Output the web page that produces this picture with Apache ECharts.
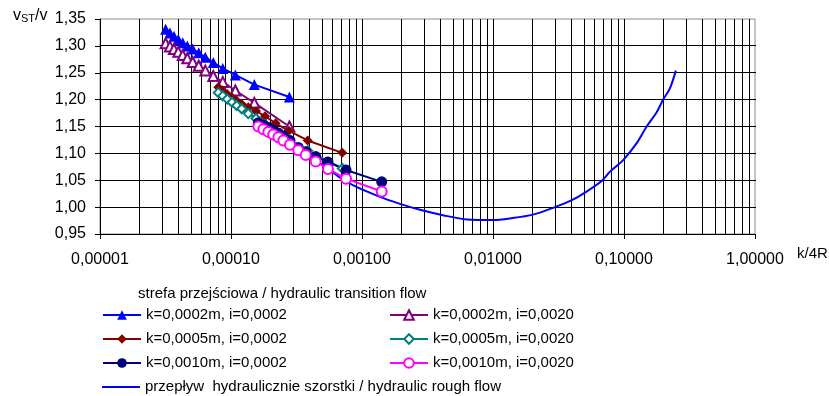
<!DOCTYPE html>
<html>
<head>
<meta charset="utf-8">
<script src="https://cdn.jsdelivr.net/npm/echarts@6/dist/echarts.min.js"></script>
<style>
  html, body { margin: 0; padding: 0; background: #fff; }
  #chart { width: 829px; height: 396px; }
</style>
</head>
<body>
<div id="chart"></div>
<script>
// k/4R and vST/v readings
const kx1 = [3.17e-5, 3.42e-5, 3.67e-5, 3.96e-5, 4.28e-5, 4.64e-5, 5.10e-5, 5.67e-5, 6.37e-5, 7.33e-5, 8.65e-5, 1.079e-4, 1.507e-4, 2.79e-4];
const v1 = [1.331, 1.324, 1.318, 1.312, 1.306, 1.300, 1.294, 1.287, 1.279, 1.269, 1.258, 1.246, 1.228, 1.205];
const v4 = [1.305, 1.299, 1.294, 1.289, 1.283, 1.277, 1.270, 1.263, 1.254, 1.244, 1.233, 1.217, 1.194, 1.150];

const kx2 = [8.0e-5, 8.65e-5, 9.37e-5, 1.018e-4, 1.106e-4, 1.207e-4, 1.355e-4, 1.552e-4, 1.82e-4, 2.19e-4, 2.77e-4, 3.85e-4, 7.07e-4];
const v2 = [1.223, 1.217, 1.210, 1.204, 1.198, 1.192, 1.186, 1.179, 1.169, 1.156, 1.142, 1.124, 1.101];
const v5 = [1.213, 1.207, 1.201, 1.195, 1.189, 1.183, 1.174, 1.165, 1.154, 1.141, 1.126, 1.105, 1.072];

const kx3 = [1.616e-4, 1.765e-4, 1.927e-4, 2.10e-4, 2.30e-4, 2.51e-4, 2.82e-4, 3.26e-4, 3.72e-4, 4.43e-4, 5.50e-4, 7.55e-4, 1.414e-3];
const v3 = [1.157, 1.153, 1.148, 1.143, 1.138, 1.132, 1.124, 1.111, 1.103, 1.094, 1.084, 1.069, 1.047];
const v6 = [1.150, 1.145, 1.140, 1.135, 1.130, 1.124, 1.116, 1.106, 1.097, 1.085, 1.071, 1.053, 1.029];

const kRough = [2.82e-4, 4.77e-4, 7.62e-4, 1.372e-3, 1.95e-3, 2.77e-3, 4.15e-3, 6.34e-3, 1.0e-2, 1.35e-2, 2.02e-2, 2.97e-2, 4.0e-2, 5.04e-2, 6.79e-2, 7.82e-2, 9.89e-2, 0.125, 0.149, 0.178, 0.1995, 0.224, 0.249];
const vRough = [1.112, 1.082, 1.047, 1.019, 1.006, 0.995, 0.985, 0.977, 0.976, 0.979, 0.986, 1.000, 1.013, 1.027, 1.049, 1.066, 1.088, 1.119, 1.150, 1.177, 1.2005, 1.221, 1.254];

const names = [
  "k=0,0002m, i=0,0002",
  "k=0,0005m, i=0,0002",
  "k=0,0010m, i=0,0002",
  "k=0,0002m, i=0,0020",
  "k=0,0005m, i=0,0020",
  "k=0,0010m, i=0,0020",
  "przepływ  hydraulicznie szorstki / hydraulic rough flow",
];
const legendTitle = "strefa przejściowa / hydraulic transition flow";

const X_MIN = 1e-5, X_MAX = 1;
const Y_MIN = 0.95, Y_MAX = 1.35, Y_STEP = 0.05;
const yGrid = [1.00, 1.05, 1.10, 1.15, 1.20, 1.25, 1.30];

// log paper: verticals at 1..9 x 10^n, horizontals at the value ticks; [x1, y1, x2, y2]
const paperLines = [];
for (let e = -5; e < 0; e++) {
  for (let m = 1; m <= 9; m++) {
    const v = m * Math.pow(10, e);
    paperLines.push([v, Y_MIN, v, Y_MAX]);
  }
}
yGrid.forEach((y) => paperLines.push([X_MIN, y, X_MAX, y]));

const zip = (xs, ys) => xs.map((x, i) => [x, ys[i]]);
const FONT = "Liberation Sans, Arial, sans-serif";

function pointSeries(name, xs, ys, color, symbol, size) {
  return {
    name: name,
    type: "line",
    data: zip(xs, ys),
    symbol: symbol,
    symbolSize: size,
    showAllSymbol: true,
    lineStyle: { color: color, width: 2 },
    itemStyle: { color: color, borderWidth: symbol.startsWith("empty") ? 1.8 : 0 },
    z: 3,
  };
}

const chart = echarts.init(document.getElementById("chart"), null, { renderer: "canvas" });

const legendBase = {
  orient: "vertical",
  padding: 0,
  itemWidth: 38, itemHeight: 12, itemGap: 8,
  textStyle: { fontFamily: FONT, fontSize: 15, color: "#000", lineHeight: 16 },
  selectedMode: false,
};

const pix = (v) => Math.round(v - 0.5);

const option = {
  animation: false,
  textStyle: { fontFamily: FONT },
  grid: {
    left: 100, right: 74, top: 19, bottom: 162,
    show: true, borderColor: "#8c8c8c", borderWidth: 1,
  },
  xAxis: {
    type: "log",
    logBase: 10,
    min: X_MIN,
    max: X_MAX,
    axisLine: { lineStyle: { color: "#000", width: 1 } },
    axisTick: { show: true, length: 5, lineStyle: { color: "#000" } },
    axisLabel: {
      margin: 18, fontSize: 16, color: "#000", fontFamily: FONT,
      formatter: (v) => v.toFixed(5).replace(".", ","),
    },
    splitLine: { show: false },
  },
  yAxis: {
    type: "value",
    min: Y_MIN,
    max: Y_MAX,
    interval: Y_STEP,
    axisLine: { show: true, lineStyle: { color: "#000", width: 1 } },
    axisTick: { show: true, length: 5, lineStyle: { color: "#000" } },
    axisLabel: {
      margin: 14, fontSize: 16, color: "#000", fontFamily: FONT,
      formatter: (v) => v.toFixed(2).replace(".", ","),
    },
    splitLine: { show: false },
  },
  legend: [
    Object.assign({ data: [names[0], names[1], names[2]], left: 102, top: 307 }, legendBase),
    Object.assign({ data: [names[3], names[4], names[5]], left: 389, top: 307 }, legendBase),
    Object.assign({
      data: [{ name: names[6], icon: "path://M0,0 L38,0 L38,2 L0,2 Z" }],
      left: 102, top: 379,
    }, legendBase),
  ],
  graphic: [
    { type: "text", left: 138, top: 286, style: { text: legendTitle, font: "15px " + FONT, fill: "#000" } },
    { type: "text", left: 13, top: 8, style: { text: "v", font: "16px " + FONT, fill: "#000" } },
    { type: "text", left: 21, top: 13, style: { text: "ST", font: "11px " + FONT, fill: "#000" } },
    { type: "text", left: 35, top: 8, style: { text: "/v", font: "16px " + FONT, fill: "#000" } },
    { type: "text", left: 797, top: 246, style: { text: "k/4R", font: "15px " + FONT, fill: "#000" } },
  ],
  series: [
    {
      name: "paper",
      type: "custom",
      data: paperLines,
      encode: { x: [0, 2], y: [1, 3] },
      silent: true,
      clip: false,
      z: 1,
      renderItem: (params, api) => {
        const a = api.coord([api.value(0), api.value(1)]);
        const b = api.coord([api.value(2), api.value(3)]);
        const x1 = pix(Math.min(a[0], b[0])), x2 = pix(Math.max(a[0], b[0]));
        const y1 = pix(Math.min(a[1], b[1])), y2 = pix(Math.max(a[1], b[1]));
        // 1px filled bar along the gridline
        return {
          type: "rect",
          shape: { x: x1, y: y1, width: Math.max(1, x2 - x1 + 1), height: Math.max(1, y2 - y1 + 1) },
          style: { fill: "#000" },
        };
      },
    },
    {
      name: names[6],
      type: "line",
      data: zip(kRough, vRough),
      smooth: 0.3,
      symbol: "none",
      lineStyle: { color: "#0000ff", width: 2 },
      itemStyle: { color: "#0000ff" },
      z: 2,
    },
    pointSeries(names[0], kx1, v1, "#0000ff", "triangle", 11),
    pointSeries(names[3], kx1, v4, "#800080", "emptyTriangle", 10),
    pointSeries(names[1], kx2, v2, "#800000", "diamond", 10),
    pointSeries(names[4], kx2, v5, "#008080", "emptyDiamond", 9),
    pointSeries(names[2], kx3, v3, "#000080", "circle", 11),
    pointSeries(names[5], kx3, v6, "#ff00ff", "emptyCircle", 10),
  ],
};

chart.setOption(option);
</script>
</body>
</html>
